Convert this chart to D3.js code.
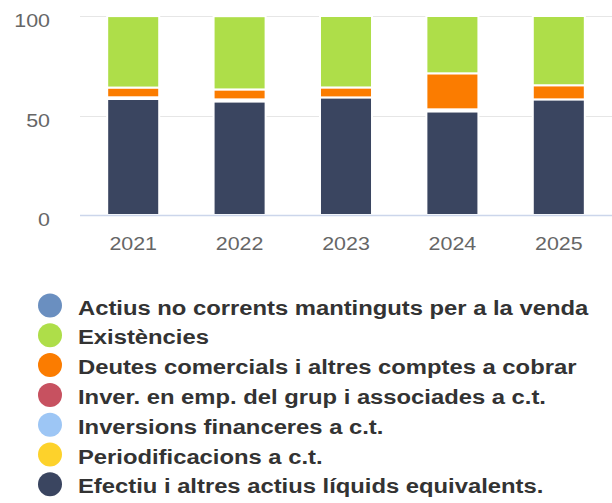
<!DOCTYPE html>
<html>
<head>
<meta charset="utf-8">
<script src="https://cdn.jsdelivr.net/npm/d3@7"></script>
<style>
  html, body { margin: 0; padding: 0; background: #fff; }
  svg { display: block; }
</style>
</head>
<body>
<div id="chart"></div>
<script>
const categories = ["2021", "2022", "2023", "2024", "2025"];
const seriesNames = [
  "Actius no corrents mantinguts per a la venda",
  "Existències",
  "Deutes comercials i altres comptes a cobrar",
  "Inver. en emp. del grup i associades a c.t.",
  "Inversions financeres a c.t.",
  "Periodificacions a c.t.",
  "Efectiu i altres actius líquids equivalents."
];
const seriesColors = ["#6a8fc0", "#aede49", "#fb7c00", "#c75160", "#9dc6f5", "#fdd22b", "#3a4560"];
const actiusNoCorrents = [0, 0, 0, 0, 0];
const existencies = [35.9, 36.8, 35.9, 28.8, 34.8];
const deutes = [4.9, 5.0, 5.0, 18.1, 7.1];
const inverGrup = [0, 0, 0, 0, 0];
const inversionsFin = [0.85, 1.0, 0, 1.0, 0];
const periodificacions = [0, 0, 0, 0, 0];
const efectiu = [58.3, 57.1, 59.1, 52.1, 58.1];
const yTicks = [0, 50, 100];

const seriesValues = [actiusNoCorrents, existencies, deutes, inverGrup, inversionsFin, periodificacions, efectiu];

const W = 612, H = 503;
const SX = 1.19; // horizontal text stretch seen in the reference
const svg = d3.select("#chart").append("svg").attr("width", W).attr("height", H)
  .style("font-family", "'Liberation Sans', Arial, Helvetica, sans-serif");

const x = d3.scaleBand().domain(categories).range([80, 612]).padding(0);
const y = d3.scaleLinear().domain([0, 100]).range([215, 16]);
const barW = x.bandwidth() * 0.489;

// grid
svg.append("g").selectAll("line").data(yTicks.filter(d => d !== 0)).join("line")
  .attr("x1", 80).attr("x2", 612)
  .attr("y1", d => Math.round(y(d)) + 0.5).attr("y2", d => Math.round(y(d)) + 0.5)
  .attr("stroke", "#e6e6e6").attr("stroke-width", 1);

// y labels
svg.append("g").selectAll("text").data(yTicks).join("text")
  .attr("transform", d => `translate(50, ${y(d) + 11}) scale(${SX},1)`)
  .attr("text-anchor", "end").attr("fill", "#666").style("font-size", "18px")
  .text(d => d);

// stacked bars: bottom series is last in list
const rows = categories.map((c, i) => {
  const o = { cat: c };
  seriesNames.forEach((s, k) => o[s] = seriesValues[k][i]);
  return o;
});
const stackKeys = seriesNames.slice().reverse();
const stacked = d3.stack().keys(stackKeys)(rows);

svg.append("g").selectAll("g").data(stacked).join("g")
  .attr("fill", d => seriesColors[seriesNames.indexOf(d.key)])
  .selectAll("rect").data(d => d.filter(p => p[1] - p[0] > 0)).join("rect")
  .attr("x", d => x(d.data.cat) + (x.bandwidth() - barW) / 2)
  .attr("width", barW)
  .attr("y", d => y(d[1]))
  .attr("height", d => y(d[0]) - y(d[1]))
  .attr("stroke", "#fff").attr("stroke-width", 2);

// x axis line
svg.append("line").attr("x1", 80).attr("x2", 612).attr("y1", 215.5).attr("y2", 215.5)
  .attr("stroke", "#ccd6eb").attr("stroke-width", 1.5);

// x labels
svg.append("g").selectAll("text").data(categories).join("text")
  .attr("transform", d => `translate(${x(d) + x.bandwidth() / 2}, 250) scale(${SX},1)`)
  .attr("text-anchor", "middle").attr("fill", "#666").style("font-size", "18px")
  .text(d => d);

// legend
const lg = svg.append("g").selectAll("g").data(seriesNames).join("g")
  .attr("transform", (d, i) => `translate(0, ${305.5 + i * 29.8})`);
lg.append("circle").attr("cx", 50).attr("cy", 0).attr("r", 12)
  .attr("fill", (d, i) => seriesColors[i]);
lg.append("text").attr("transform", `translate(78, 9) scale(${SX},1)`)
  .attr("fill", "#333").style("font-size", "20px").style("font-weight", "bold")
  .text(d => d);
</script>
</body>
</html>
